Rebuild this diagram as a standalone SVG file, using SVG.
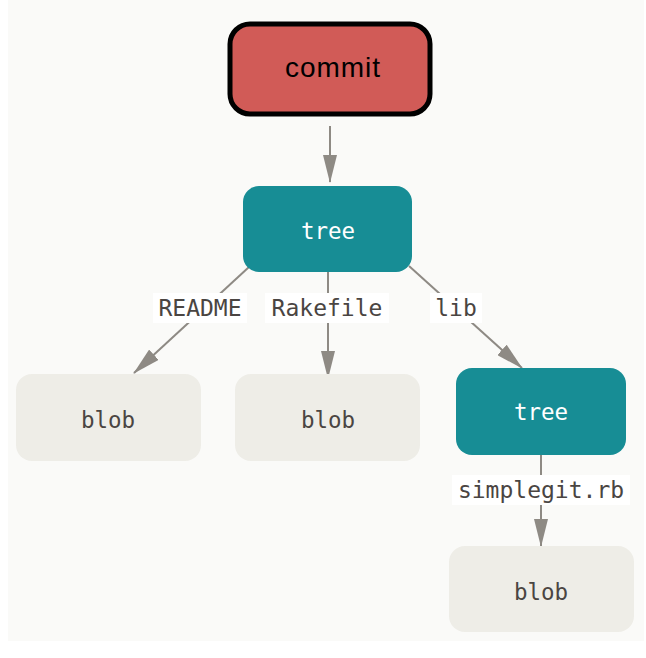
<svg xmlns="http://www.w3.org/2000/svg" width="646" height="658" viewBox="0 0 646 658">
<defs>
<marker id="ah" viewBox="0 0 28 14" refX="27" refY="7" markerWidth="28" markerHeight="14" markerUnits="userSpaceOnUse" orient="auto">
<path d="M0,0 L28,7 L0,14 Z" fill="#8e8a84"/>
</marker>
<style>
.bg{fill:#fafaf8}
.conn{stroke:#8e8a84;stroke-width:2;fill:none}
.lblbg{fill:#ffffff}
.lbl{font-family:"DejaVu Sans Mono","Liberation Mono",monospace;font-size:23px;fill:#4a4542;text-anchor:middle}
.tree rect{fill:#178d95}
.tree text{font-family:"DejaVu Sans Mono","Liberation Mono",monospace;font-size:22.5px;fill:#ffffff;text-anchor:middle}
.blob rect{fill:#eeede7}
.blob text{font-family:"DejaVu Sans Mono","Liberation Mono",monospace;font-size:22.5px;fill:#4a4542;text-anchor:middle}
</style>
</defs>
<rect x="0" y="0" width="646" height="658" fill="#ffffff"/>
<rect class="bg" x="8" y="0" width="636" height="641"/>
<g id="connectors">
<line class="conn" x1="330" y1="126" x2="330" y2="182" marker-end="url(#ah)"/>
<line class="conn" x1="249" y1="267" x2="134" y2="373" marker-end="url(#ah)"/>
<line class="conn" x1="328" y1="272" x2="328" y2="378" marker-end="url(#ah)"/>
<line class="conn" x1="409" y1="266" x2="522" y2="368" marker-end="url(#ah)"/>
<line class="conn" x1="541" y1="455" x2="541" y2="546" marker-end="url(#ah)"/>
<rect class="lblbg" x="153" y="293" width="94" height="30"/>
<text class="lbl" x="200" y="316">README</text>
<rect class="lblbg" x="265" y="293" width="124" height="30"/>
<text class="lbl" x="327" y="316">Rakefile</text>
<rect class="lblbg" x="430" y="293" width="52" height="30"/>
<text class="lbl" x="456" y="316">lib</text>
<rect class="lblbg" x="452" y="475" width="178" height="30"/>
<text class="lbl" x="541" y="498">simplegit.rb</text>
</g>
<g id="commit">
<rect x="230" y="24" width="200" height="90" rx="20" fill="#d15b57" stroke="#000000" stroke-width="5"/>
<text x="333" y="77" font-family="'Liberation Sans',Arial,sans-serif" font-size="28" letter-spacing="1" fill="#000000" text-anchor="middle">commit</text>
</g>
<g id="tree1" class="tree">
<rect x="243" y="186" width="169" height="86" rx="16"/>
<text x="328" y="239">tree</text>
</g>
<g id="blob1" class="blob">
<rect x="16" y="374" width="185" height="87" rx="16"/>
<text x="108" y="428">blob</text>
</g>
<g id="blob2" class="blob">
<rect x="235" y="374" width="185" height="87" rx="16"/>
<text x="328" y="428">blob</text>
</g>
<g id="tree2" class="tree">
<rect x="456" y="368" width="170" height="87" rx="16"/>
<text x="541" y="420">tree</text>
</g>
<g id="blob3" class="blob">
<rect x="449" y="546" width="185" height="86" rx="16"/>
<text x="541" y="600">blob</text>
</g>
</svg>
